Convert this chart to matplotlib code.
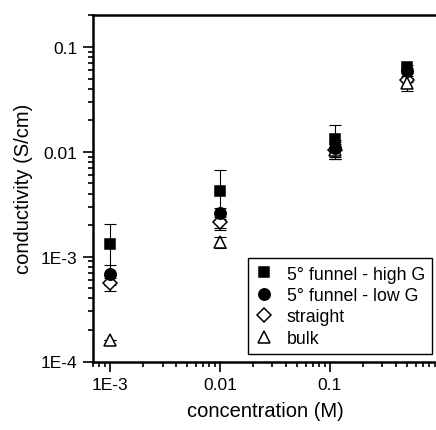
import numpy as np
import matplotlib
matplotlib.use("Agg")
import matplotlib.pyplot as plt
from matplotlib.ticker import LogLocator, FixedLocator, FixedFormatter, NullFormatter

plt.rcParams['font.family'] = ['Liberation Sans', 'DejaVu Sans']

# concentration (M) for each series
conc = [1e-3, 0.01, 0.11, 0.5]

funnel_high = [1.33e-3, 4.24e-3, 0.0133, 0.065]
funnel_high_err = [0.70e-3, 2.45e-3, 0.0047, 0.002]

funnel_low = [0.69e-3, 2.6e-3, 0.0108, 0.059]
funnel_low_err = [0.15e-3, 0.3e-3, 0.0022, 0.002]

straight = [0.565e-3, 2.14e-3, 0.0105, 0.0487]
straight_err = [0.09e-3, 0.25e-3, 0.002, 0.002]

bulk = [0.159e-3, 1.37e-3, 0.0105, 0.0455]
bulk_err = [0.0, 0.16e-3, 0.0015, 0.0075]

series_labels = ["5° funnel - high G", "5° funnel - low G", "straight", "bulk"]

x_ticks = [1e-3, 0.01, 0.1]
x_tick_labels = ["1E-3", "0.01", "0.1"]
y_ticks = [1e-4, 1e-3, 0.01, 0.1]
y_tick_labels = ["1E-4", "1E-3", "0.01", "0.1"]

fig = plt.figure(figsize=(4.36, 4.31), dpi=100)
ax = fig.add_axes([93 / 436, 1 - 362.5 / 431, 345 / 436, 346.5 / 431])

styles = [
    dict(marker='s', ms=7.2, mfc='black'),
    dict(marker='o', ms=8.2, mfc='black'),
    dict(marker='D', ms=6.8, mfc='white'),
    dict(marker='^', ms=8.2, mfc='white'),
]
data = [(funnel_high, funnel_high_err), (funnel_low, funnel_low_err),
        (straight, straight_err), (bulk, bulk_err)]

# draw in reverse so filled markers sit on top
handles = [None] * 4
for i in reversed(range(4)):
    y, err = data[i]
    st = styles[i]
    ax.errorbar(conc, y, yerr=err, fmt='none', ecolor='black',
                elinewidth=0.8, capsize=4.5, capthick=0.8, zorder=2)
    m, = ax.plot(conc, y, linestyle='none', marker=st['marker'], markersize=st['ms'],
                 markerfacecolor=st['mfc'], markeredgecolor='black',
                 markeredgewidth=1.1, zorder=3 + i * 0.1 if i > 1 else 4 + (1 - i) * 0.1,
                 label=series_labels[i])
    handles[i] = m

ax.set_xscale('log')
ax.set_yscale('log')
ax.set_xlim(7e-4, 0.96)
ax.set_ylim(1e-4, 0.202)

ax.xaxis.set_major_locator(FixedLocator(x_ticks))
ax.xaxis.set_major_formatter(FixedFormatter(x_tick_labels))
ax.xaxis.set_minor_locator(LogLocator(base=10, subs=np.arange(2, 10), numticks=20))
ax.xaxis.set_minor_formatter(NullFormatter())
ax.yaxis.set_major_locator(FixedLocator(y_ticks))
ax.yaxis.set_major_formatter(FixedFormatter(y_tick_labels))
ax.yaxis.set_minor_locator(LogLocator(base=10, subs=np.arange(2, 10), numticks=20))
ax.yaxis.set_minor_formatter(NullFormatter())

ax.tick_params(which='major', direction='out', length=7, width=1.2, labelsize=12.5, pad=4)
ax.tick_params(which='minor', direction='out', length=3.8, width=1.2)
ax.tick_params(top=False, right=False)

for side in ['left', 'bottom', 'top']:
    ax.spines[side].set_linewidth(1.8)
ax.spines['right'].set_visible(False)

ax.set_xlabel("concentration (M)", fontsize=14.5, labelpad=7)
ax.set_ylabel("conductivity (S/cm)", fontsize=14.5, labelpad=6)

leg = ax.legend(handles=handles, labels=series_labels, loc='lower right',
                bbox_to_anchor=(432 / 436, 1 - 355 / 431), bbox_transform=fig.transFigure,
                borderaxespad=0, fancybox=False, framealpha=1, edgecolor='black',
                fontsize=12.8, handlelength=1.0, handletextpad=0.8, labelspacing=0.25,
                borderpad=0.4)
leg.get_frame().set_linewidth(1.0)

fig.savefig("out.png", dpi=100)
